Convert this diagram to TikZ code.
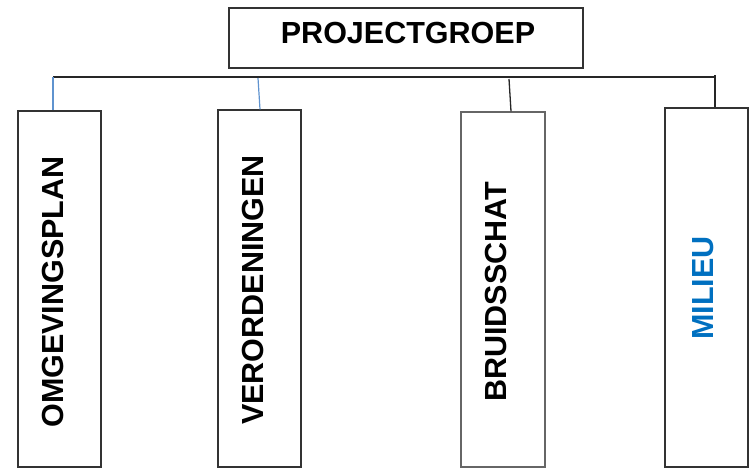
\documentclass[tikz,border=0pt]{standalone}
\usepackage{fontspec}
\setmainfont{Liberation Sans}
\usetikzlibrary{calc}

\definecolor{tekstblauw}{HTML}{0070C0}
\definecolor{lijnblauw}{HTML}{5F93CF}

\tikzset{
  vak/.style={draw=black!80,line width=1.3pt,minimum width=83pt,inner sep=0pt},
  tekst/.style={font=\fontsize{30.5}{36}\selectfont\bfseries,inner sep=0pt},
  lijn/.style={draw=black!85,line width=1.3pt}
}

\begin{document}
\begin{tikzpicture}[x=1pt,y=-1pt]
  \useasboundingbox (0,0) rectangle (751,470);

  % projectgroep bovenaan
  \node[vak,minimum width=354pt,minimum height=60pt] (pg) at (406,38) {};
  \node[tekst] (pgtxt) at (408,33) {PROJECTGROEP};

  % de vier vakken
  \node[vak,minimum height=356pt] (omg) at (59.5,289) {};
  \node[vak,minimum height=357pt] (ver) at (259.5,288.5) {};
  \node[vak,draw=black!60,minimum width=84pt,minimum height=355pt] (bru) at (503,289.5) {};
  \node[vak,minimum height=359pt] (mil) at (706.5,287.5) {};

  \node[tekst,rotate=90] (omgtxt) at (52.5,292) {OMGEVINGSPLAN};
  \node[tekst,rotate=90] (vertxt) at (252.5,290) {VERORDENINGEN};
  \node[tekst,rotate=90] (brutxt) at (495.5,292) {BRUIDSSCHAT};
  \node[tekst,rotate=90,text=tekstblauw] (miltxt) at (703,288) {MILIEU};

  % verbindingslijn
  \coordinate (b1) at (53,77);
  \coordinate (b2) at (258,78);
  \coordinate (b3) at (509,79);
  \coordinate (b4) at (715,77);

  \path[lijn] (b1) -- (b4) -- ++(0,-2);
  \draw[lijnblauw,line width=1.2pt] (b1) -- (b1 |- omg.north);
  \draw[lijnblauw,line width=1.2pt] (b2) -- ($(b2 |- ver.north)+(2,0)$);
  \path[lijn] (b3) -- ($(b3 |- bru.north)+(2,0)$);
  \path[lijn] (b4) -- (b4 |- mil.north);
\end{tikzpicture}
\end{document}
